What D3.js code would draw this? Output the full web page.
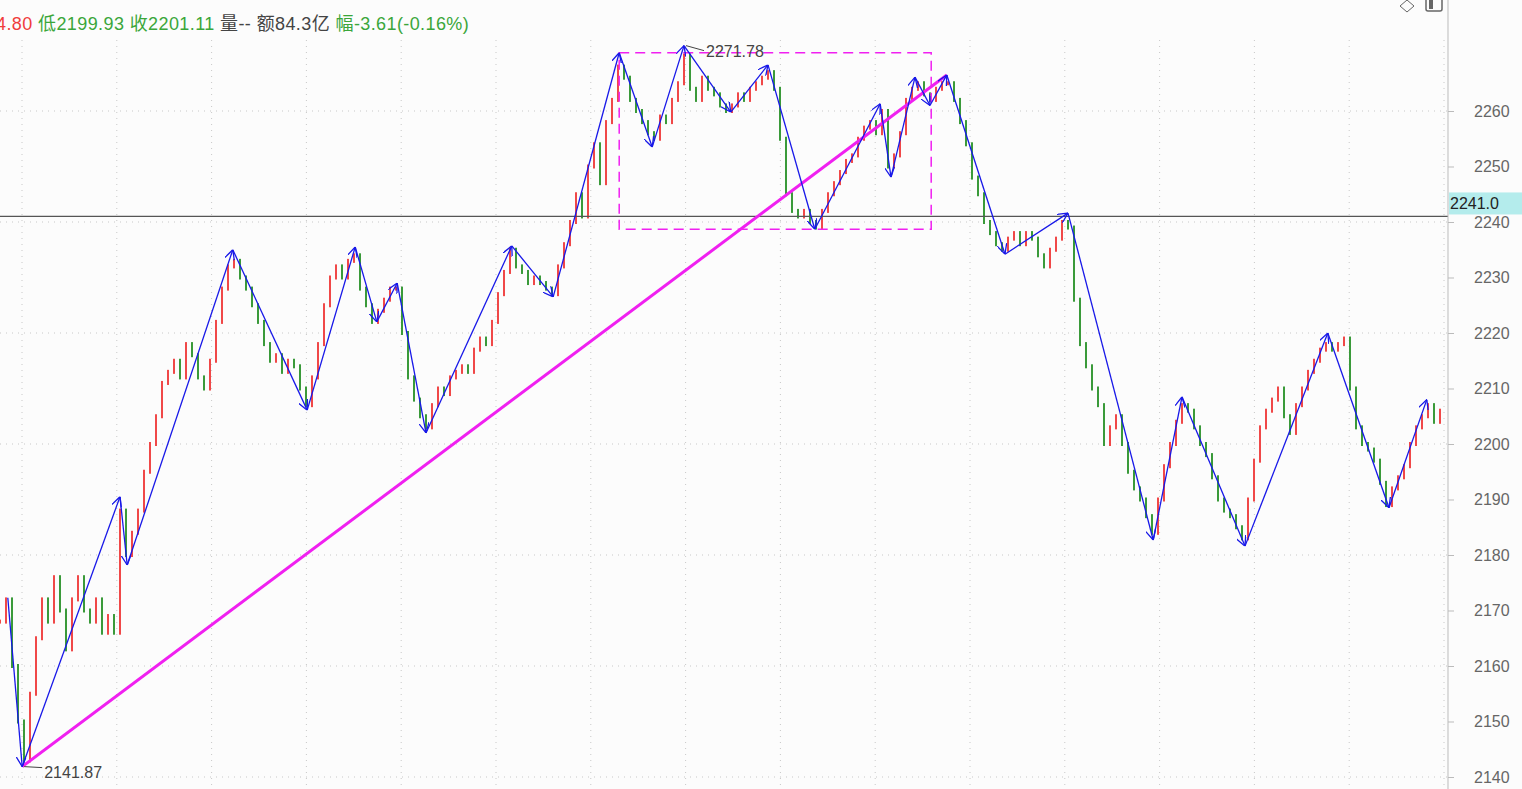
<!DOCTYPE html>
<html><head><meta charset="utf-8">
<script src="https://cdn.jsdelivr.net/npm/d3@7"></script>
<style>body{margin:0;background:#fcfcfc;overflow:hidden}text{font-family:"Liberation Sans","Noto Sans CJK SC",sans-serif}</style>
</head><body><svg id="chart" width="1522" height="789"></svg>
<script>
// bar closes, one per 6px step
const closes = [2168,2172,2160,2150,2143,2155,2165,2172,2168,2176,2170,2163,2172,2176,2170,2168,2172,2166,2169,2166,
2188,2180,2184,2188,2195,2200,2205,2211,2213,2215,2212,2218,2216,2212,2210,2215,2222,2228,2232,2233,2230,2228,2225,2222,2218,2215,2216,2213,2215,2214,2210,2207,
2212,2218,2225,2230,2232,2230,2233,2234,2228,2225,2222,2224,2226,2228,2228,2220,2212,2208,2205,2203,
2207,2210,2209,2212,2213,2214,2213,2217,2219,2218,2222,2227,2231,2235,2232,2231,2229,2230,2229,2228,2227,
2232,2236,2240,2245,2241,2250,2254,2247,2258,2262,2268,2266,2262,2260,2258,2256,2255,2259,2258,2262,2265,2270,2264,2262,2266,2264,2263,2261,2260,2261,2263,2262,2264,2265,2266,2267,2264,2255,2245,2242,2241,2242,2240,2239,
2242,2245,2247,2249,2251,2252,2255,2257,2258,2256,2260,2250,2252,2256,2262,2264,2265,2263,2262,2264,2265,2265,2262,2258,2254,2248,2245,2240,2238,2236,2235,2237,2238,2236,2238,2237,2234,2232,2235,2237,2240,2239,
2226,2218,2214,2210,2207,2200,2203,2205,2200,2195,2192,2190,2187,2184,2190,2196,2200,2204,2207,2206,2203,2200,2198,2194,2190,2188,2187,2185,2183,2190,2197,2203,2206,2208,2210,2205,2202,2207,2210,2213,2215,2217,2218,2217,2218,2219,2210,2203,2200,2199,2197,2193,2189,2192,2194,2196,2200,2203,2205,2207,2204,2206];
// zigzag pivots: [bar position, price]
const pivotPos = [1.3,3.7,20,21.2,38.8,51.2,59.2,62.8,66.2,71,85.3,92.2,103.2,108.7,114,121.8,128,135.8,146.7,148.5,152.5,155,157.8,167.5,178,192.2,197,207.5,221.3,231.5,237.8];
const pivotVal = [2172.3,2141.87,2190.5,2178.2,2235,2206.1,2235.5,2222,2229,2202,2235.7,2226.5,2270.5,2253.5,2271.78,2259.8,2268.3,2238.7,2261.3,2248.1,2266.1,2261,2266.5,2234.2,2241.6,2182.7,2208.5,2181.6,2220,2188.5,2208];
const yTicks = [2140,2150,2160,2170,2180,2190,2200,2210,2220,2230,2240,2250,2260];
const lastPrice = 2241.0;
const boxRange = [103.2, 155.2, 2238.7, 2270.5];
const trendFrom = [3.7, 2141.87], trendTo = [157.8, 2266.5];
const header = [["4.80","#f03c3c"],["低2199.93","#3aa63a"],["收2201.11","#3aa63a"],["量--","#444"],["额84.3亿","#444"],["幅-3.61(-0.16%)","#3aa63a"]];

const svg = d3.select("#chart");
const x = d3.scaleLinear().domain([0, 240]).range([0, 1440]);
const y = d3.scaleLinear().domain([2140, 2260]).range([777, 111]);
const axisX = 1448;

// grid
const g = svg.append("g");
d3.range(2140, 2261, 20).forEach(v => g.append("line").attr("x1",0).attr("x2",axisX).attr("y1",y(v)).attr("y2",y(v))
  .attr("stroke","#c8c8c8").attr("stroke-dasharray","1,5"));
d3.range(22, axisX, 94.8).forEach(v => g.append("line").attr("x1",v).attr("x2",v).attr("y1",40).attr("y2",789)
  .attr("stroke","#c8c8c8").attr("stroke-dasharray","1,5"));

// candles
const candles = svg.append("g");
closes.forEach((c, i) => {
  const o = i === 0 ? c : closes[i-1];
  const up = c >= o;
  const top = y(Math.max(o, c)), bot = y(Math.min(o, c));
  candles.append("rect").attr("x", x(i) - 1).attr("width", 2)
    .attr("y", top - 2).attr("height", Math.max(bot - top + 4, 2))
    .attr("fill", up ? "#f04848" : "#3a9a3a");
});

// last price line
svg.append("line").attr("x1",0).attr("x2",axisX).attr("y1",y(lastPrice)).attr("y2",y(lastPrice)).attr("stroke","#555").attr("stroke-width",1.2);

// magenta box and trend line
svg.append("rect").attr("x",x(boxRange[0])).attr("y",y(boxRange[3]))
  .attr("width",x(boxRange[1])-x(boxRange[0])).attr("height",y(boxRange[2])-y(boxRange[3]))
  .attr("fill","none").attr("stroke","#f020f0").attr("stroke-width",1.5).attr("stroke-dasharray","10,6");
svg.append("line").attr("x1",x(trendFrom[0])).attr("y1",y(trendFrom[1])).attr("x2",x(trendTo[0])).attr("y2",y(trendTo[1]))
  .attr("stroke","#f020f0").attr("stroke-width",3);

// zigzag
svg.append("defs").append("marker").attr("id","arr").attr("viewBox","0 0 10 10").attr("refX",10).attr("refY",5)
  .attr("markerWidth",10).attr("markerHeight",10).attr("markerUnits","userSpaceOnUse").attr("orient","auto")
  .append("path").attr("d","M0,0L10,5L0,10").attr("fill","none").attr("stroke","#1818e8").attr("stroke-width",1.3);
const zz = svg.append("g");
for (let i = 1; i < pivotPos.length; i++) {
  zz.append("line").attr("x1",x(pivotPos[i-1])).attr("y1",y(pivotVal[i-1])).attr("x2",x(pivotPos[i])).attr("y2",y(pivotVal[i]))
    .attr("stroke","#1818e8").attr("stroke-width",1.3).attr("marker-end","url(#arr)");
}
svg.append("text").attr("x",x(114)+22).attr("y",y(2271.78)+11).attr("font-size",16).attr("fill","#444").text("2271.78");
svg.append("line").attr("x1",x(114)+2).attr("y1",y(2271.78)).attr("x2",x(114)+20).attr("y2",y(2271.78)+5).attr("stroke","#444");
svg.append("text").attr("x",x(3.7)+22).attr("y",y(2141.87)+11).attr("font-size",16).attr("fill","#444").text("2141.87");
svg.append("line").attr("x1",x(3.7)+2).attr("y1",y(2141.87)).attr("x2",x(3.7)+20).attr("y2",y(2141.87)+1).attr("stroke","#444");

// right axis
svg.append("rect").attr("x",axisX).attr("y",0).attr("width",74).attr("height",789).attr("fill","#fcfcfc");
svg.append("line").attr("x1",axisX).attr("x2",axisX).attr("y1",0).attr("y2",789).attr("stroke","#bbb");
const ax = svg.append("g").attr("transform",`translate(${axisX},0)`)
  .call(d3.axisRight(y).tickValues(yTicks).tickSize(6).tickPadding(20).tickFormat(d3.format("d")));
ax.select(".domain").remove();
ax.selectAll("line").attr("stroke","#bbb");
ax.selectAll("text").attr("font-size",16).attr("fill","#666").attr("font-family","Liberation Sans");
svg.append("rect").attr("x",axisX+1).attr("y",y(lastPrice)-24).attr("width",73).attr("height",22).attr("fill","#b4ecec");
svg.append("text").attr("x",axisX+2).attr("y",y(lastPrice)-7).attr("font-size",16).attr("fill","#222").text(lastPrice.toFixed(1));

// top-right icons
svg.append("path").attr("d","M1407,0L1414,6L1407,12L1400,6Z").attr("fill","none").attr("stroke","#666");
svg.append("rect").attr("x",1426).attr("y",-4).attr("width",16).attr("height",15).attr("rx",2).attr("fill","none").attr("stroke","#666").attr("stroke-width",1.5);
svg.append("rect").attr("x",1429).attr("y",-2).attr("width",4).attr("height",11).attr("fill","#666");

// header
const ht = svg.append("text").attr("x",-4).attr("y",30).attr("font-size",18).attr("letter-spacing",0.4);
header.forEach(([t, c], i) => ht.append("tspan").attr("fill", c).text((i ? " " : "") + t));
</script></body></html>
